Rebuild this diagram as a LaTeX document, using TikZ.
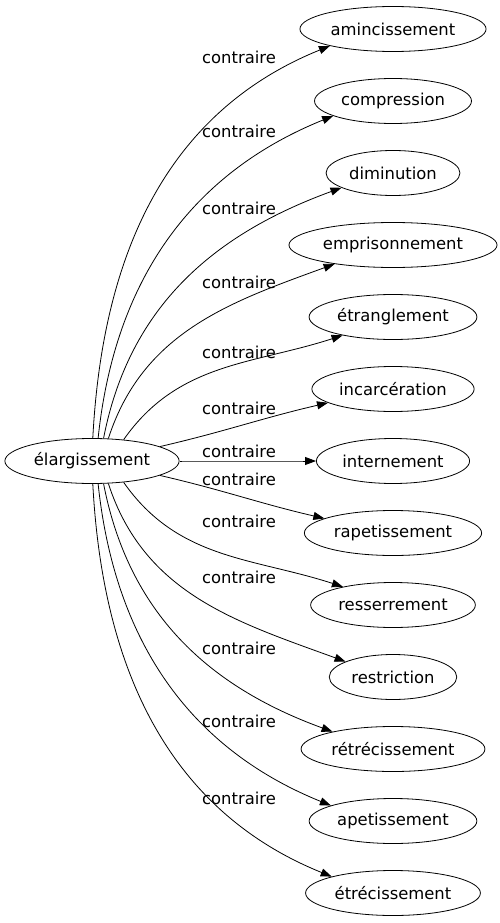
\documentclass[tikz,border=0pt]{standalone}
\usepackage{fontspec}
\setmainfont{DejaVu Sans}
\usepackage{tikz}
\usetikzlibrary{shapes.geometric}
\usetikzlibrary{arrows.meta}

\begin{document}
\begin{tikzpicture}[x=1pt,y=1pt]
\tikzset{word node/.style={
    draw,
    ellipse,
    line width=0.8pt,
    minimum height=45pt,
    inner xsep=3.5pt,
    inner ysep=0pt,
    font=\fontsize{16.4}{19}\selectfont
  },
  rel label/.style={
    inner sep=0pt,
    font=\fontsize{16.4}{19}\selectfont
  },
  rel edge/.style={
    line width=0.8pt,
    -{Triangle[length=11pt,width=8pt]}
  }
}
\useasboundingbox (0,0) rectangle (499,-923);

\node[word node] (elargissement) at (92,-461) {élargissement};

\node[word node] (amincissement) at (393,-29) {amincissement};
\node[word node] (compression) at (393,-101) {compression};
\node[word node] (diminution) at (393,-173) {diminution};
\node[word node] (emprisonnement) at (393,-245) {emprisonnement};
\node[word node] (etranglement) at (393,-317) {étranglement};
\node[word node] (incarceration) at (393,-389) {incarcération};
\node[word node] (internement) at (393,-461) {internement};
\node[word node] (rapetissement) at (393,-533) {rapetissement};
\node[word node] (resserrement) at (393,-605) {resserrement};
\node[word node] (restriction) at (393,-677) {restriction};
\node[word node] (retrecissement) at (393,-749) {rétrécissement};
\node[word node] (apetissement) at (393,-821) {apetissement};
\node[word node] (etrecissement) at (393,-893) {étrécissement};

% contraire labels
\node[rel label] (c1) at (239,-57) {contraire};
\node[rel label] (c2) at (239,-131) {contraire};
\node[rel label] (c3) at (239,-208) {contraire};
\node[rel label] (c4) at (239,-282) {contraire};
\node[rel label] (c5) at (239,-352) {contraire};
\node[rel label] (c6) at (239,-408) {contraire};
\node[rel label] (c7) at (239,-451) {contraire};
\node[rel label] (c8) at (239,-479) {contraire};
\node[rel label] (c9) at (239,-521) {contraire};
\node[rel label] (c10) at (239,-577) {contraire};
\node[rel label] (c11) at (239,-648) {contraire};
\node[rel label] (c12) at (239,-721) {contraire};
\node[rel label] (c13) at (239,-798) {contraire};

% start anchor / out / target / end anchor / in
\foreach \s/\o/\dst/\a/\i in {88/87/amincissement/195/202,
    75/84/compression/194/202, 63/79/diminution/196/200,
    54/72/emprisonnement/198/200, 34/55/etranglement/200/198,
    12/13/incarceration/192/193, 0/0/internement/180/180,
    -12/-13/rapetissement/168/167, -34/-55/resserrement/160/162,
    -54/-72/restriction/162/160, -63/-79/retrecissement/164/160,
    -75/-84/apetissement/166/158, -88/-87/etrecissement/165/158}
  \draw[rel edge] (elargissement.\s) to[out=\o,in=\i] (\dst.\a);
\end{tikzpicture}
\end{document}
